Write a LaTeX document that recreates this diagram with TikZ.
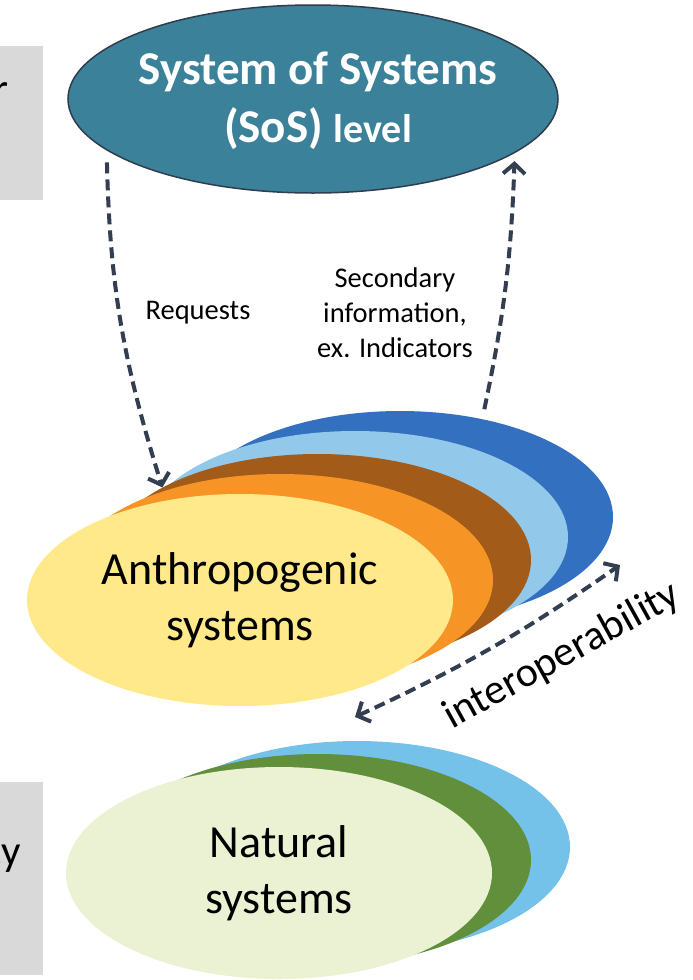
\documentclass[tikz,border=0pt]{standalone}
\usepackage{fontspec}
\setmainfont{Carlito}
\usetikzlibrary{shapes.geometric,arrows.meta}

\definecolor{sosteal}{HTML}{3A8199}
\definecolor{sosline}{HTML}{2F3D4F}
\definecolor{arrowgray}{HTML}{333F50}
\definecolor{sidegray}{HTML}{D9D9D9}
\definecolor{layerblue}{HTML}{3470C0}
\definecolor{layersky}{HTML}{92C8E9}
\definecolor{layerbrown}{HTML}{A25B19}
\definecolor{layerorange}{HTML}{F69426}
\definecolor{layeryellow}{HTML}{FFE98A}
\definecolor{natblue}{HTML}{74C2EA}
\definecolor{natgreen}{HTML}{618F3C}
\definecolor{natlight}{HTML}{EBF2D4}

\begin{document}
\begin{tikzpicture}[
    x=1pt, y=1pt,
    layer/.style={
        ellipse,
        minimum width=426pt,
        minimum height=212pt,
        inner sep=0pt,
        align=center,
        font=\fontsize{46}{56}\selectfont
    },
    sosbox/.style={
        ellipse,
        draw=sosline,
        line width=1.5pt,
        fill=sosteal,
        minimum width=490pt,
        minimum height=188pt,
        inner sep=0pt
    },
    sostext/.style={
        align=center,
        text=white,
        font=\bfseries\fontsize{47}{58}\selectfont
    },
    sidebox/.style={
        rectangle,
        fill=sidegray,
        minimum width=43pt,
        anchor=north west,
        inner sep=0pt
    },
    flowtext/.style={
        align=center,
        font=\fontsize{28.5}{35}\selectfont
    },
    arrow/.style={
        line width=4pt,
        dash pattern=on 11pt off 6pt,
        -{Straight Barb[length=10pt,width=22pt,line width=4pt]},
        color=arrowgray
    }
]
\useasboundingbox (0,0) rectangle (693,-980);

% Side boxes
\node[sidebox, minimum height=154pt] (sidetop) at (0,-46) {};
\node[anchor=base east, inner sep=0pt, font=\fontsize{43}{52}\selectfont] (sidetoptxt) at (9,-103) {r};
\node[sidebox, minimum height=193pt] (sidebot) at (0,-782) {};
\node[anchor=base east, inner sep=0pt, font=\fontsize{43}{52}\selectfont] (sidebottxt) at (21,-865) {cy};

% SoS level
\node[sosbox] (sos) at (313,-99) {};
\node[sostext] (sostxt) at (318,-101) {System of Systems\\(SoS) {\fontsize{40}{58}\selectfont level}};

% Anthropogenic stack
\node[layer, fill=layerblue] (anthro-blue) at (400,-517) {};
\node[layer, fill=layersky] (anthro-sky) at (355,-537) {};
\node[layer, fill=layerbrown] (anthro-brown) at (318,-560) {};
\node[layer, fill=layerorange] (anthro-orange) at (280,-580) {};
\node[layer, fill=layeryellow] (anthro) at (240,-600) {Anthropogenic\\systems};

% Natural stack
\node[layer, fill=natblue] (nat-blue) at (357,-847) {};
\node[layer, fill=natgreen] (nat-green) at (318,-860) {};
\node[layer, fill=natlight] (natural) at (279,-873) {Natural\\systems};

% Requests / information
\draw[arrow, shorten <=12pt] (sos.194) to[bend right=8] (anthro-brown.155);
\node[flowtext] (requests) at (198,-313) {Requests};
\draw[arrow, shorten <=10pt, shorten >=8pt] (anthro-blue.50) to[bend right=5] (sos.345);
\node[flowtext] (secondary) at (395,-313) {Secondary\\information,\\ex. Indicators};

% Interoperability
\coordinate (io-low) at (355,-717);
\coordinate (io-high) at (620,-565);
\draw[arrow, {Straight Barb[length=10pt,width=22pt,line width=4pt]}-{Straight Barb[length=10pt,width=22pt,line width=4pt]}]
    (io-low) to[bend right=5] (io-high);
\node[rotate=29, inner sep=0pt, font=\fontsize{42}{50}\selectfont] (interop) at (562,-656) {interoperability};

\end{tikzpicture}
\end{document}
